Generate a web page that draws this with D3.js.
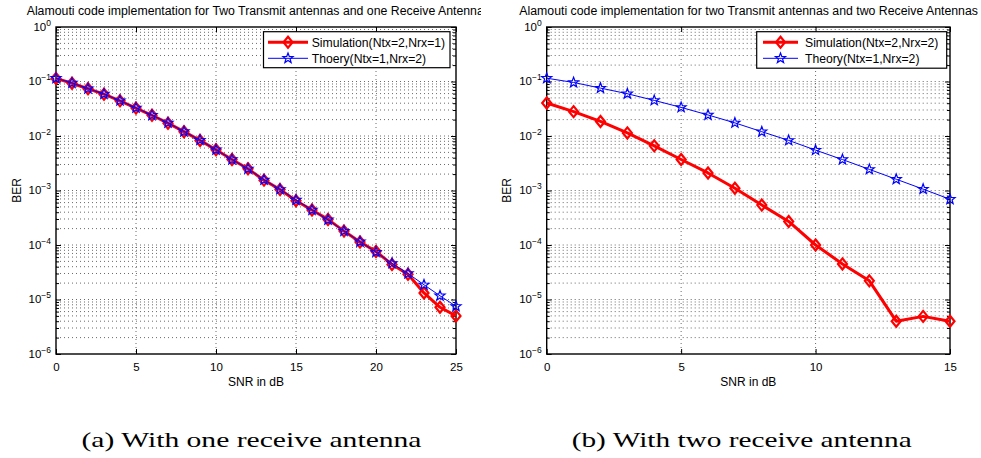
<!DOCTYPE html>
<html>
<head>
<meta charset="utf-8">
<script src="https://cdn.jsdelivr.net/npm/d3@7"></script>
<style>
  html, body { margin:0; padding:0; background:#fff; }
  svg { display:block; }
  text { fill:#000; }
</style>
</head>
<body>
<svg id="chart" width="981" height="458"></svg>
<script>
// ---------------- data ----------------
const snr1 = [0,1,2,3,4,5,6,7,8,9,10,11,12,13,14,15,16,17,18,19,20,21,22,23,24,25];
const sim1 = [0.114,0.093,0.0735,0.0585,0.0442,0.0325,0.0240,0.0172,0.0120,0.0083,0.0056,0.0037,0.0025,0.00155,0.00104,6.5e-4,4.4e-4,2.95e-4,1.8e-4,1.14e-4,7.6e-5,4.4e-5,2.9e-5,1.32e-5,7.2e-6,5.0e-6];
const theory1 = [0.115,0.094,0.0740,0.0590,0.0445,0.0328,0.0241,0.0174,0.0121,0.0084,0.0056,0.0037,0.0025,0.00157,0.00105,6.7e-4,4.4e-4,2.9e-4,1.8e-4,1.15e-4,7.4e-5,4.6e-5,3.0e-5,1.86e-5,1.17e-5,7.5e-6];

const snr2 = [0,1,2,3,4,5,6,7,8,9,10,11,12,13,14,15];
const sim2 = [0.0404,0.028,0.0185,0.0114,0.0066,0.0037,0.0021,0.0011,5.4e-4,2.7e-4,1.0e-4,4.5e-5,2.2e-5,4.0e-6,4.9e-6,4.0e-6];
const theory2 = [0.115,0.096,0.0757,0.0596,0.045,0.0335,0.0243,0.0174,0.012,0.0083,0.0055,0.0037,0.00244,0.00161,0.00106,0.00069];

const xTicks1 = [0,5,10,15,20,25];
const xTicks2 = [0,5,10,15];
const yDecades = [-6,-5,-4,-3,-2,-1,0];

const titles = ["Alamouti code implementation for Two Transmit antennas and one Receive Antenna",
                "Alamouti code implementation for two Transmit antennas and two Receive Antennas"];
const simLabels = ["Simulation(Ntx=2,Nrx=1)", "Simulation(Ntx=2,Nrx=2)"];
const theoryLabels = ["Thoery(Ntx=1,Nrx=2)", "Theory(Ntx=1,Nrx=2)"];
const captions = ["(a) With one receive antenna", "(b) With two receive antenna"];
const xLabel = "SNR in dB";
const yLabel = "BER";

// ---------------- layout ----------------
const SANS = "'Liberation Sans', Arial, sans-serif";
const SERIF = "'Liberation Serif', 'DejaVu Serif', serif";
const svg = d3.select("#chart");
const yTop = 27, yBot = 354;

const panels = [
  {x0:56, x1:456, xmax:25, snr:snr1, sim:sim1, th:theory1, xTicks:xTicks1,
   title:titles[0], titleX:26.7, clipL:0, clipR:481,
   leg:{x:263.5, y:31.7, w:186.5, h:36, l0:268, l1:308, tx:311.7},
   simLabel:simLabels[0], thLabel:theoryLabels[0], caption:captions[0], capX:251.5, berX:17},
  {x0:546.7, x1:950, xmax:15, snr:snr2, sim:sim2, th:theory2, xTicks:xTicks2,
   title:titles[1], titleX:519.3, clipL:490, clipR:981,
   leg:{x:756.7, y:31.7, w:190, h:36.5, l0:763, l1:798, tx:805},
   simLabel:simLabels[1], thLabel:theoryLabels[1], caption:captions[1], capX:741.7, berX:507}
];

const defs = svg.append("defs");

function starPath(r, ri) {
  const pts = [];
  for (let i = 0; i < 10; i++) {
    const a = -Math.PI/2 + i*Math.PI/5;
    const rr = (i % 2 === 0) ? r : ri;
    pts.push([rr*Math.cos(a), rr*Math.sin(a)]);
  }
  return "M" + pts.map(p => p[0].toFixed(2)+","+p[1].toFixed(2)).join("L") + "Z";
}
const diamondPath = "M0,-5.5L4.5,0L0,5.5L-4.5,0Z";
const star = starPath(5.3, 2.2);

panels.forEach((p, i) => {
  const x = d3.scaleLinear().domain([0, p.xmax]).range([p.x0, p.x1]);
  const y = d3.scaleLog().domain([1e-6, 1]).range([yBot, yTop]);

  const g = svg.append("g");

  // title (clipped at panel edge)
  defs.append("clipPath").attr("id", "clip"+i)
    .append("rect").attr("x", p.clipL).attr("y", 0).attr("width", p.clipR - p.clipL).attr("height", 458);
  g.append("text").attr("clip-path", "url(#clip"+i+")")
    .attr("x", p.titleX).attr("y", 15.3).style("font-family", SANS).style("font-size", "12.3px").text(p.title);

  // grid
  const grid = g.append("g").attr("stroke", "#444").attr("stroke-width", 0.8)
    .attr("stroke-dasharray", "1,3").attr("fill", "none");
  const gridVals = [];
  yDecades.forEach(k => {
    if (k > -6 && k < 0) gridVals.push(Math.pow(10, k));
    if (k < 0) for (let m = 2; m <= 9; m++) gridVals.push(m*Math.pow(10, k));
  });
  gridVals.forEach(v => {
    grid.append("line").attr("x1", p.x0).attr("x2", p.x1).attr("y1", y(v)).attr("y2", y(v));
  });
  p.xTicks.slice(1, -1).forEach(v => {
    grid.append("line").attr("x1", x(v)).attr("x2", x(v)).attr("y1", yTop).attr("y2", yBot);
  });

  // axes (ticks inside)
  const axB = g.append("g").attr("transform", `translate(0,${yBot})`)
    .call(d3.axisBottom(x).tickValues(p.xTicks).tickSizeInner(-5).tickSizeOuter(0).tickPadding(8.5));
  const axT = g.append("g").attr("transform", `translate(0,${yTop})`)
    .call(d3.axisTop(x).tickValues(p.xTicks).tickSizeInner(-5).tickSizeOuter(0).tickFormat(""));
  const majorY = yDecades.map(k => Math.pow(10, k));
  const minorY = gridVals.filter(v => !majorY.includes(v));
  const axL = g.append("g").attr("transform", `translate(${p.x0},0)`)
    .call(d3.axisLeft(y).tickValues(majorY).tickSizeInner(-5).tickSizeOuter(0).tickFormat(""));
  const axLm = g.append("g").attr("transform", `translate(${p.x0},0)`)
    .call(d3.axisLeft(y).tickValues(minorY).tickSizeInner(-3).tickSizeOuter(0).tickFormat(""));
  const axR = g.append("g").attr("transform", `translate(${p.x1},0)`)
    .call(d3.axisRight(y).tickValues(majorY).tickSizeInner(-5).tickSizeOuter(0).tickFormat(""));
  const axRm = g.append("g").attr("transform", `translate(${p.x1},0)`)
    .call(d3.axisRight(y).tickValues(minorY).tickSizeInner(-3).tickSizeOuter(0).tickFormat(""));
  [axB, axT, axL, axLm, axR, axRm].forEach(a => {
    a.select(".domain").remove();
    a.selectAll(".tick line").attr("stroke", "#000").attr("stroke-width", 1);
  });
  axB.selectAll(".tick text").style("font-size", "11.5px").style("font-family", SANS);

  // y tick labels with superscript
  yDecades.forEach(k => {
    const t = g.append("text").attr("x", p.x0 - 5).attr("y", y(Math.pow(10, k)) + 3.6)
      .attr("text-anchor", "end").style("font-family", SANS).style("font-size", "11.5px");
    t.append("tspan").text("10");
    t.append("tspan").style("font-size", "8.5px").attr("dy", -5).text(k === 0 ? "0" : "\u2212" + (-k));
  });

  // box
  g.append("rect").attr("x", p.x0).attr("y", yTop).attr("width", p.x1 - p.x0).attr("height", yBot - yTop)
    .attr("fill", "none").attr("stroke", "#000").attr("stroke-width", 1.4);

  // axis labels
  g.append("text").attr("x", (p.x0 + p.x1)/2).attr("y", 386).attr("text-anchor", "middle")
    .style("font-family", SANS).style("font-size", "12px").text(xLabel);
  g.append("text").attr("transform", `translate(${p.berX + 4},${(yTop+yBot)/2}) rotate(-90)`)
    .attr("text-anchor", "middle").style("font-family", SANS).style("font-size", "12px").text(yLabel);

  // data lines
  const line = d3.line().x(d => x(d[0])).y(d => y(d[1]));
  const simData = p.snr.map((s, j) => [s, p.sim[j]]);
  const thData = p.snr.map((s, j) => [s, p.th[j]]);

  g.append("path").datum(simData).attr("d", line).attr("fill", "none")
    .attr("stroke", "#ff0000").attr("stroke-width", 3).attr("stroke-linejoin", "round");
  g.selectAll(".dm"+i).data(simData).join("path").attr("class", "dm"+i)
    .attr("transform", d => `translate(${x(d[0])},${y(d[1])})`).attr("d", diamondPath)
    .attr("fill", "none").attr("stroke", "#ff0000").attr("stroke-width", 2.2);

  g.append("path").datum(thData).attr("d", line).attr("fill", "none")
    .attr("stroke", "#0000ff").attr("stroke-width", 1);
  g.selectAll(".st"+i).data(thData).join("path").attr("class", "st"+i)
    .attr("transform", d => `translate(${x(d[0])},${y(d[1])})`).attr("d", star)
    .attr("fill", "none").attr("stroke", "#0000ff").attr("stroke-width", 1.2);

  // legend
  const L = p.leg;
  const lg = g.append("g");
  lg.append("rect").attr("x", L.x).attr("y", L.y).attr("width", L.w).attr("height", L.h)
    .attr("fill", "#fff").attr("stroke", "#000").attr("stroke-width", 1.2);
  const r1 = L.y + 10.6, r2 = L.y + 26.6;
  lg.append("line").attr("x1", L.l0).attr("x2", L.l1).attr("y1", r1).attr("y2", r1)
    .attr("stroke", "#ff0000").attr("stroke-width", 3);
  lg.append("path").attr("d", diamondPath).attr("transform", `translate(${(L.l0+L.l1)/2},${r1})`)
    .attr("fill", "none").attr("stroke", "#ff0000").attr("stroke-width", 2.2);
  lg.append("text").attr("x", L.tx).attr("y", r1 + 4.3).style("font-family", SANS).style("font-size", "12.2px").text(p.simLabel);
  lg.append("line").attr("x1", L.l0).attr("x2", L.l1).attr("y1", r2).attr("y2", r2)
    .attr("stroke", "#0000ff").attr("stroke-width", 1);
  lg.append("path").attr("d", star).attr("transform", `translate(${(L.l0+L.l1)/2},${r2})`)
    .attr("fill", "none").attr("stroke", "#0000ff").attr("stroke-width", 1.2);
  lg.append("text").attr("x", L.tx).attr("y", r2 + 4.3).style("font-family", SANS).style("font-size", "12.2px").text(p.thLabel);

  // caption
  g.append("text").attr("x", p.capX).attr("y", 447).attr("text-anchor", "middle")
    .style("font-family", SERIF).style("font-size", "21px")
    .attr("textLength", 340).attr("lengthAdjust", "spacingAndGlyphs")
    .text(p.caption);
});
</script>
</body>
</html>
